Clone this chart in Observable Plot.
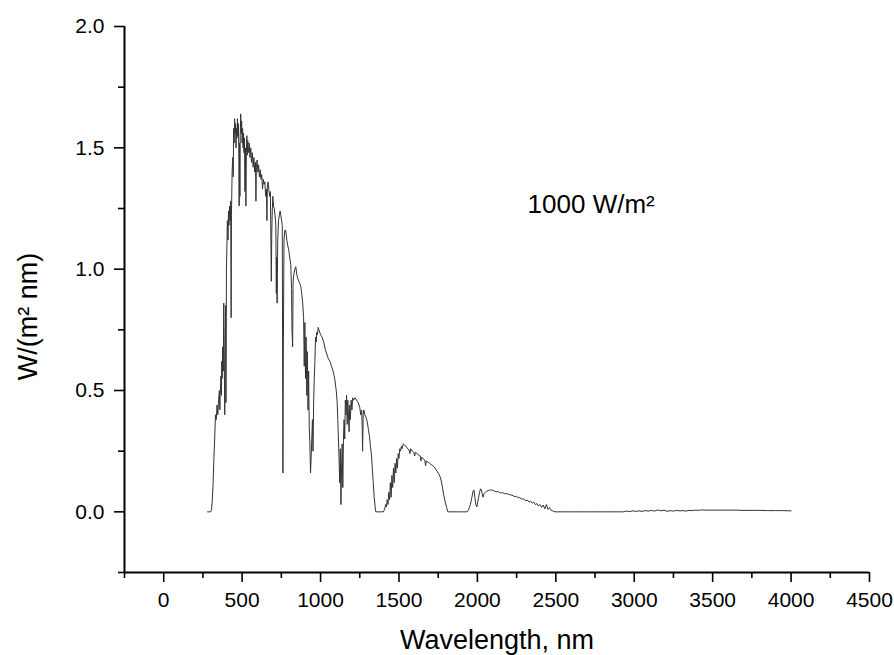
<!DOCTYPE html>
<html><head><meta charset="utf-8">
<script src="https://cdn.jsdelivr.net/npm/d3@7"></script>
<script src="https://cdn.jsdelivr.net/npm/@observablehq/plot@0.6"></script>
<style>body{margin:0;background:#fff}</style>
</head><body><div id="chart"></div>
<script>
const wavelengthNm = [
  280,290,300,305,310,315,320,325,330,335,
  340,345,350,355,358,360,365,368,370,373,
  376,380,383,386,389,392,395,397,400,403,
  406,410,413,416,420,423,427,430,432,436,
  440,443,446,449,452,455,458,461,464,467,
  470,473,476,479,481,483,486,488,491,494,
  497,500,503,506,509,512,515,518,521,524,
  527,530,533,536,540,545,550,555,560,565,
  570,575,580,585,588,591,595,600,605,610,
  615,620,625,630,635,640,645,650,655,658,
  661,665,670,675,680,686,689,692,696,700,
  705,710,715,718,720,723,727,732,737,742,
  747,752,756,760,763,767,772,778,785,790,
  797,803,810,815,818,822,825,830,836,842,
  848,855,862,868,874,880,886,892,896,900,
  904,908,912,916,920,924,928,932,936,940,
  944,948,952,956,960,964,968,972,976,980,
  985,990,1000,1010,1020,1030,1040,1050,1060,1070,
  1080,1090,1100,1106,1110,1114,1118,1122,1126,1130,
  1134,1138,1142,1146,1150,1154,1158,1162,1166,1170,
  1174,1178,1182,1186,1190,1195,1200,1205,1210,1220,
  1230,1240,1250,1256,1262,1266,1268,1272,1276,1282,
  1290,1298,1305,1312,1318,1324,1330,1336,1342,1348,
  1352,1360,1380,1400,1408,1415,1420,1425,1430,1435,
  1440,1445,1450,1455,1460,1465,1470,1475,1480,1485,
  1490,1495,1500,1505,1510,1515,1520,1527,1535,1545,
  1555,1565,1570,1575,1585,1595,1600,1605,1615,1625,
  1635,1640,1645,1655,1665,1670,1675,1685,1695,1705,
  1715,1725,1735,1745,1755,1765,1775,1785,1795,1805,
  1812,1850,1900,1935,1945,1955,1965,1972,1978,1984,
  1990,1996,2002,2008,2014,2020,2026,2032,2036,2042,
  2050,2060,2070,2080,2090,2100,2110,2120,2130,2140,
  2150,2160,2170,2180,2190,2200,2210,2220,2230,2240,
  2250,2260,2270,2280,2290,2300,2310,2320,2330,2340,
  2350,2360,2370,2380,2390,2400,2410,2420,2430,2440,
  2450,2460,2470,2480,2495,2600,2700,2800,2930,2950,
  2970,2990,3010,3030,3050,3070,3090,3110,3130,3150,
  3170,3190,3210,3230,3250,3270,3290,3310,3330,3350,
  3370,3390,3410,3430,3450,3500,3550,3600,3650,3700,
  3750,3800,3850,3900,3950,4000
];
const irradiance = [
  0,0,0,0.01,0.05,0.12,0.22,0.30,0.40,0.38,
  0.44,0.40,0.46,0.50,0.42,0.48,0.56,0.48,0.62,0.55,
  0.68,0.58,0.86,0.62,0.40,0.70,0.85,0.45,1.00,1.10,
  1.20,1.12,1.24,1.18,1.26,1.20,1.28,0.80,1.22,1.40,
  1.46,1.38,1.58,1.52,1.62,1.56,1.60,1.50,1.58,1.54,
  1.62,1.55,1.60,1.50,1.26,1.52,1.30,1.55,1.64,1.56,
  1.61,1.52,1.58,1.50,1.56,1.48,1.54,1.32,1.50,1.26,
  1.48,1.55,1.47,1.53,1.48,1.52,1.46,1.50,1.44,1.48,
  1.42,1.46,1.40,1.44,1.28,1.42,1.45,1.40,1.43,1.38,
  1.41,1.37,1.39,1.33,1.37,1.35,1.36,1.30,1.33,1.20,
  1.34,1.36,1.33,1.30,1.32,0.95,1.15,1.24,1.30,1.26,
  1.25,1.22,1.18,0.90,1.05,0.86,1.12,1.20,1.22,1.24,
  1.22,1.20,1.18,0.16,0.70,1.12,1.16,1.16,1.12,1.10,
  1.08,1.05,1.02,0.92,0.75,0.68,0.95,0.98,1.00,1.01,
  0.98,0.96,0.95,0.94,0.93,0.90,0.86,0.80,0.60,0.78,
  0.55,0.72,0.48,0.66,0.42,0.58,0.35,0.28,0.16,0.22,
  0.30,0.38,0.25,0.45,0.55,0.62,0.72,0.70,0.74,0.73,
  0.76,0.75,0.73,0.72,0.70,0.67,0.65,0.63,0.62,0.60,
  0.58,0.55,0.50,0.45,0.38,0.30,0.22,0.12,0.26,0.03,
  0.18,0.28,0.10,0.30,0.38,0.30,0.46,0.40,0.48,0.36,
  0.46,0.40,0.33,0.44,0.38,0.46,0.42,0.47,0.46,0.47,
  0.46,0.45,0.43,0.40,0.42,0.34,0.25,0.40,0.42,0.40,
  0.39,0.37,0.34,0.31,0.27,0.24,0.18,0.12,0.06,0.02,
  0,0,0,0,0.01,0.03,0.02,0.05,0.03,0.08,
  0.05,0.12,0.06,0.15,0.10,0.18,0.12,0.20,0.16,0.22,
  0.18,0.24,0.22,0.26,0.25,0.27,0.26,0.28,0.275,0.27,
  0.26,0.255,0.24,0.26,0.25,0.245,0.23,0.245,0.24,0.235,
  0.23,0.21,0.225,0.22,0.21,0.19,0.21,0.205,0.20,0.195,
  0.19,0.185,0.175,0.165,0.155,0.14,0.11,0.07,0.04,0.015,
  0,0,0,0,0.01,0.03,0.06,0.085,0.09,0.06,
  0.03,0.02,0.04,0.06,0.08,0.095,0.09,0.07,0.06,0.075,
  0.08,0.085,0.088,0.09,0.09,0.088,0.085,0.082,0.084,0.08,
  0.078,0.079,0.076,0.074,0.075,0.072,0.07,0.068,0.066,0.062,
  0.064,0.058,0.06,0.052,0.055,0.05,0.046,0.048,0.04,0.044,
  0.036,0.04,0.03,0.034,0.024,0.03,0.018,0.028,0.012,0.03,
  0.01,0.018,0.006,0.004,0,0,0,0,0,0.003,
  0.001,0.004,0.002,0.004,0.002,0.005,0.003,0.006,0.003,0.008,
  0.004,0.007,0.002,0.005,0.003,0.006,0.004,0.005,0.003,0.006,
  0.005,0.007,0.006,0.008,0.007,0.007,0.007,0.007,0.007,0.006,
  0.006,0.006,0.005,0.005,0.005,0.004
];
const xMajorTicks = [0, 500, 1000, 1500, 2000, 2500, 3000, 3500, 4000, 4500];
const xMinorTicks = [-250, 250, 750, 1250, 1750, 2250, 2750, 3250, 3750, 4250];
const yMajorTicks = [0, 0.5, 1.0, 1.5, 2.0];
const yMinorTicks = [-0.25, 0.25, 0.75, 1.25, 1.75];
const xDomain = [-250, 4500];
const yDomain = [-0.25, 2.0];
const xTitle = "Wavelength, nm";
const yTitle = "W/(m² nm)";
const annotations = [{label: "1000 W/m²", x: 2320, y: 1.23}];

const spectrum = wavelengthNm.map((w, i) => ({w, v: irradiance[i]}));
const font = "'Liberation Sans', Arial, Helvetica, sans-serif";

const chart = Plot.plot({
  width: 894,
  height: 655,
  marginLeft: 124,
  marginRight: 25,
  marginTop: 26,
  marginBottom: 83,
  style: {fontFamily: font, background: "#fff", color: "#000", overflow: "visible"},
  x: {domain: xDomain},
  y: {domain: yDomain},
  marks: [
    Plot.axisX({ticks: xMajorTicks, tickSize: 10, tickPadding: 10, fontSize: 21, strokeWidth: 1.6, label: null, tickFormat: d => String(d)}),
    Plot.axisX({ticks: xMinorTicks, tickSize: 6, strokeWidth: 1.6, label: null, tickFormat: () => ""}),
    Plot.axisY({ticks: yMajorTicks, tickSize: 10, tickPadding: 10, fontSize: 21, strokeWidth: 1.6, label: null, tickFormat: d3.format(".1f")}),
    Plot.axisY({ticks: yMinorTicks, tickSize: 6, strokeWidth: 1.6, label: null, tickFormat: () => ""}),
    Plot.ruleY([yDomain[0]], {stroke: "#000", strokeWidth: 2}),
    Plot.ruleX([xDomain[0]], {stroke: "#000", strokeWidth: 2}),
    Plot.line(spectrum, {x: "w", y: "v", stroke: "#333", strokeWidth: 1}),
    Plot.text(annotations, {x: "x", y: "y", text: "label", textAnchor: "start", lineAnchor: "bottom", fontSize: 26, fill: "#000"}),
    Plot.text([xTitle], {frameAnchor: "bottom", textAnchor: "middle", lineAnchor: "bottom", dy: 76, fontSize: 27, fill: "#000"}),
    Plot.text([yTitle], {frameAnchor: "left", textAnchor: "middle", lineAnchor: "middle", rotate: -90, dx: -96, dy: 17, fontSize: 27, fill: "#000"})
  ]
});
document.getElementById("chart").appendChild(chart);
</script>
</body></html>
